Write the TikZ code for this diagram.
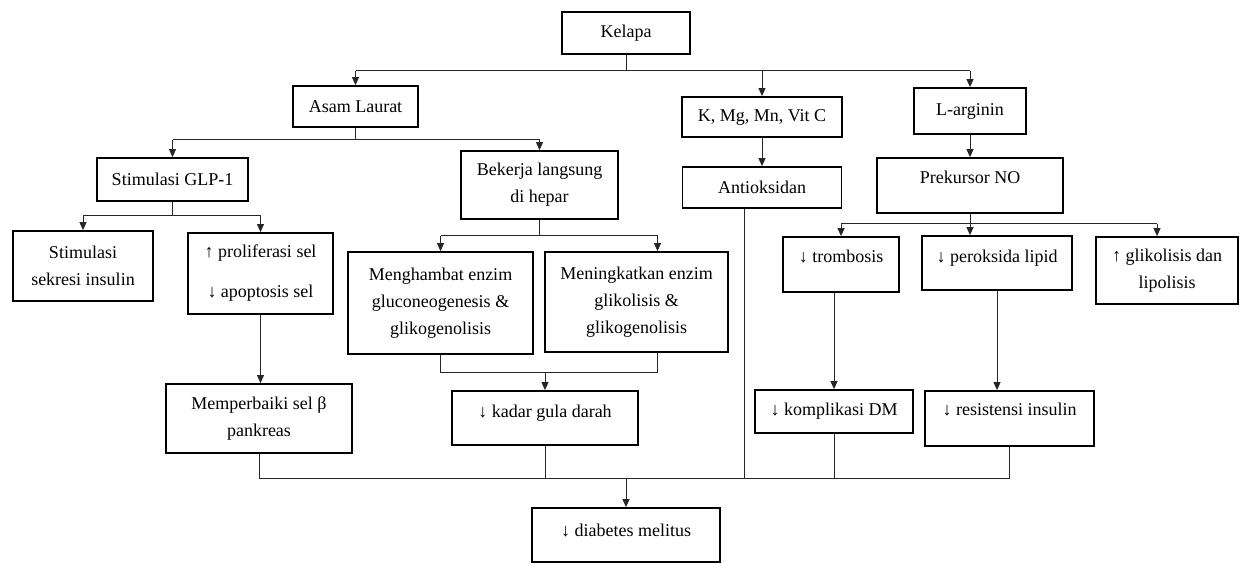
\documentclass[tikz,border=0pt]{standalone}
\usepackage{fontspec}
\setmainfont{Liberation Serif}
\usetikzlibrary{arrows.meta,calc}

\begin{document}
\begin{tikzpicture}[x=1pt,y=-1pt,font=\fontsize{18}{27}\selectfont,
 box/.style 2 args={draw,line width=\boxwidth,inner sep=0pt,align=center,
 minimum width=#1pt,minimum height=#2pt},
 toptext/.style={text height=12pt,text depth=#1},
 conn/.style={line width=\linew,black!85},
 arr/.style={conn,-{Triangle[length=8pt,width=7pt]}},
 ]
 \def\boxwidth{1.8pt}
 \def\linew{0.9pt}
 \useasboundingbox (0,0) rectangle (1244,563);
 % boxes, top to bottom
 \node[box={128}{42}] (kelapa) at (626,33) {Kelapa};
 \node[box={125}{41}] (asam) at (355.5,106.5) {Asam Laurat};
 \node[box={160}{40}] (kmg) at (762,117) {K, Mg, Mn, Vit C};
 \node[box={112}{46}] (larg) at (970,111) {L-arginin};
 \node[box={151}{43}] (glp) at (172.5,179.5) {Stimulasi GLP-1};
 \node[box={157}{68}] (hepar) at (539.5,185) {Bekerja langsung\\di hepar};
 \node[box={159}{41}] (antiok) at (762,187.5) {Antioksidan};
 \node[box={186}{55},toptext=16pt] (prekNO) at (970,185.5) {Prekursor NO};
 \node[box={140}{70}] (sekresi) at (83,266) {Stimulasi\\sekresi insulin};
 \node[box={145}{81}] (prolif) at (260.5,273.5) {↑ proliferasi sel\\[13pt]↓ apoptosis sel};
 \node[box={185}{102}] (hambat) at (440.5,303) {Menghambat enzim\\gluconeogenesis \&\\glikogenolisis};
 \node[box={183}{100}] (tingkat) at (636.5,302) {Meningkatkan enzim\\glikolisis \&\\glikogenolisis};
 \node[box={116}{55},toptext=17pt] (trombo) at (841,264.5) {↓ trombosis};
 \node[box={150}{54},toptext=14pt] (peroks) at (997,263) {↓ peroksida lipid};
 \node[box={142}{67}] (glikol) at (1167,270.5) {↑ glikolisis dan\\lipolisis};
 \node[box={186}{69}] (betasel) at (259,418.5) {Memperbaiki sel β\\pankreas};
 \node[box={186}{54},toptext=14pt] (gula) at (545,418) {↓ kadar gula darah};
 \node[box={158}{43}] (kompl) at (834,411.5) {↓ komplikasi DM};
 \node[box={169}{55},toptext=18pt] (resist) at (1009.5,418.5) {↓ resistensi insulin};
 \node[box={188}{54},toptext=9pt] (diab) at (626,535) {↓ diabetes melitus};
 \coordinate (tk) at ([xshift=21pt]tingkat.north);
 \coordinate (tkb) at ([xshift=21pt]tingkat.south);
 \coordinate (gk) at ([xshift=-10pt]glikol.north);
 \coordinate (ak) at ([xshift=-18pt]antiok.south);
 % Kelapa
 \draw[conn] (kelapa.south) -- ++(0,16) coordinate (busA);
 \draw[conn] (busA -| asam) -- (busA -| larg);
 \foreach \n in {asam,kmg,larg} \draw[arr] (busA -| \n) -- (\n.north);
 % Asam Laurat
 \draw[conn] (asam.south) -- ++(0,12) coordinate (busB);
 \draw[conn] (busB -| glp) -- (busB -| hepar);
 \foreach \n in {glp,hepar} \draw[arr] (busB -| \n) -- (\n.north);
 \draw[arr] (kmg.south) -- (kmg.south |- antiok.north);
 \draw[arr] (larg.south) -- (prekNO.north);
 % GLP-1
 \draw[conn] (glp.south) -- ++(0,14) coordinate (busC);
 \draw[conn] (busC -| sekresi) -- (busC -| prolif);
 \foreach \n in {sekresi,prolif} \draw[arr] (busC -| \n) -- (\n.north);
 % hepar
 \draw[conn] (hepar.south) -- ++(0,16) coordinate (busD);
 \draw[conn] (busD -| hambat) -- (busD -| tk);
 \draw[arr] (busD -| hambat) -- (hambat.north);
 \draw[arr] (busD -| tk) -- (tk);
 \draw[arr] (prolif.south) -- (prolif.south |- betasel.north);
 \draw[conn] (hambat.south) -- ++(0,18) coordinate (busE) -- (busE -| tkb) -- (tkb);
 \draw[arr] (busE -| gula) -- (gula.north);
 % Prekursor NO
 \draw[conn] (prekNO.south) -- ++(0,10) coordinate (busF);
 \draw[conn] (busF -| trombo) -- (busF -| gk);
 \draw[arr] (busF -| trombo) -- (trombo.north);
 \draw[arr] (busF) -- (busF |- peroks.north);
 \draw[arr] (busF -| gk) -- (gk);
 \draw[arr] (kompl.north |- trombo.south) -- (kompl.north);
 \draw[arr] (peroks.south) -- (peroks.south |- resist.north);
 % to diabetes
 \path (betasel.south) ++(0,25) coordinate (busG);
 \draw[conn] (betasel.south) -- (busG) -- (busG -| resist);
 \foreach \n in {gula,kompl,resist} \draw[conn] (\n.south) -- (\n.south |- busG);
 \draw[conn] (ak) -- (ak |- busG);
 \draw[arr] (busG -| diab) -- (diab.north);
\end{tikzpicture}
\end{document}
